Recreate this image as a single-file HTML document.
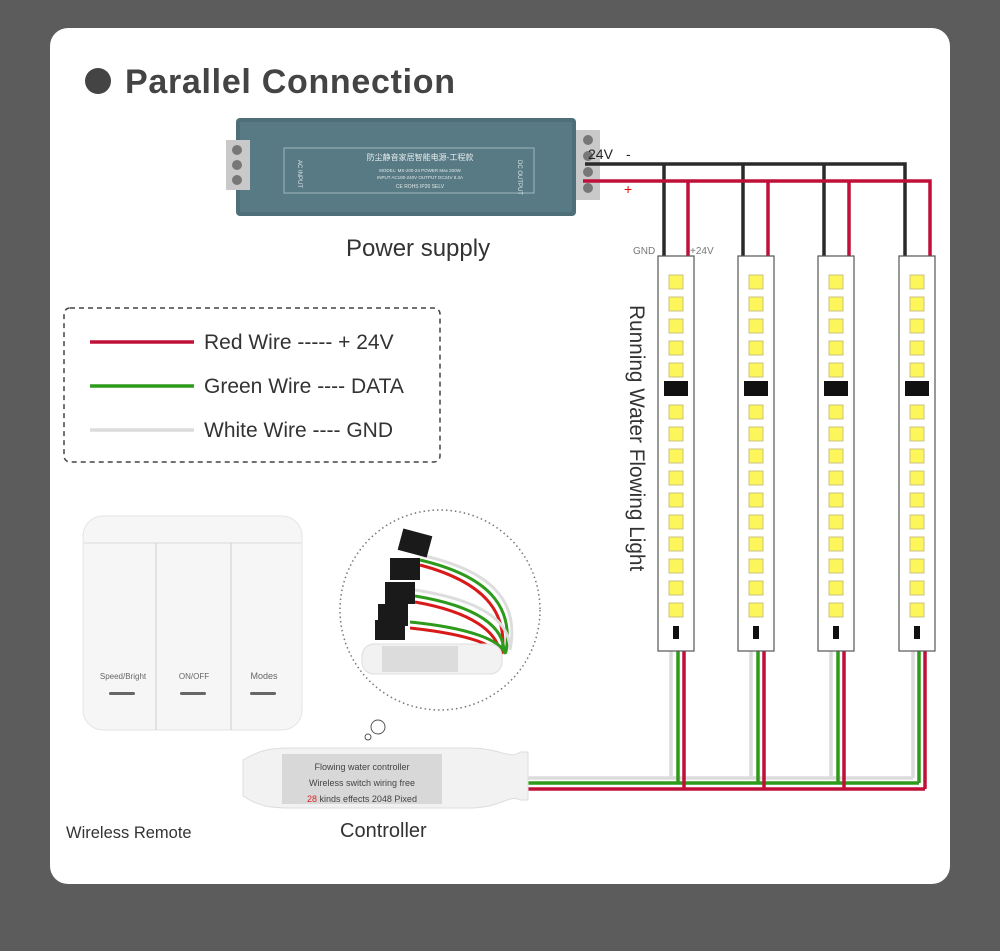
<!DOCTYPE html>
<html><head><meta charset="utf-8"><style>
body{margin:0;background:#5c5c5c;width:1000px;height:946px;overflow:hidden;font-family:"Liberation Sans",sans-serif}
</style></head><body>
<svg width="1000" height="946" xmlns="http://www.w3.org/2000/svg" font-family="Liberation Sans, sans-serif">
<rect x="0" y="0" width="1000" height="946" fill="#5c5c5c"/>
<rect x="50" y="28" width="900" height="856" rx="18" fill="#fff"/>
<circle cx="98" cy="81" r="13" fill="#444"/>
<text x="125" y="93" font-size="34" font-weight="bold" fill="#444" letter-spacing="0.7">Parallel Connection</text>
<!-- power supply -->
<g>
<rect x="236" y="118" width="340" height="98" rx="4" fill="#4f6f78"/>
<rect x="240" y="122" width="332" height="90" fill="#587a84"/>
<rect x="284" y="148" width="250" height="45" fill="none" stroke="#9fb5bb" stroke-width="1"/>
<text x="420" y="160" font-size="8" fill="#e8eef0" text-anchor="middle" font-family="Liberation Sans, Noto Sans CJK SC, sans-serif">防尘静音家居智能电源-工程款</text>
<text x="420" y="172" font-size="4.5" fill="#e0e8ea" text-anchor="middle">MODEL: MS-200-24    POWER Max 200W</text>
<text x="420" y="179" font-size="4.5" fill="#e0e8ea" text-anchor="middle">INPUT AC100-240V OUTPUT DC24V 8.3A</text>
<text x="420" y="188" font-size="5" fill="#e0e8ea" text-anchor="middle">CE ROHS  IP20  SELV</text>
<text transform="translate(298,160) rotate(90)" font-size="6" fill="#e0e8ea">AC INPUT</text>
<text transform="translate(518,160) rotate(90)" font-size="6" fill="#e0e8ea">DC OUTPUT</text>
<rect x="576" y="130" width="24" height="70" fill="#c9c9c9"/>
<circle cx="588" cy="140" r="5" fill="#777"/><circle cx="588" cy="156" r="5" fill="#777"/><circle cx="588" cy="172" r="5" fill="#777"/><circle cx="588" cy="188" r="5" fill="#777"/>
<rect x="226" y="140" width="24" height="50" fill="#c9c9c9"/>
<circle cx="237" cy="150" r="5" fill="#777"/><circle cx="237" cy="165" r="5" fill="#777"/><circle cx="237" cy="180" r="5" fill="#777"/>
</g>
<text x="346" y="256" font-size="24" fill="#333">Power supply</text>
<!-- wires top -->
<text x="588" y="159" font-size="14" fill="#222">24V</text>
<text x="626" y="159" font-size="14" fill="#222">-</text>
<text x="624" y="194" font-size="14" fill="#e00">+</text>
<path d="M585 164 H905 V258 M664 164 V258 M743 164 V258 M824 164 V258" stroke="#2a2a2a" stroke-width="3.5" fill="none"/>
<path d="M583 181 H930 V258 M688 181 V258 M768 181 V258 M849 181 V258" stroke="#c0103a" stroke-width="3.5" fill="none"/>
<text x="633" y="254" font-size="10" fill="#777">GND</text>
<text x="690" y="254" font-size="10" fill="#777">+24V</text>
<!-- bottom wires -->
<path d="M525 778 H913 M671 650 V778 M751 650 V778 M831 650 V778 M913 650 V778" stroke="#dcdcdc" stroke-width="3.5" fill="none"/>
<path d="M525 783 H919 M678 650 V783 M758 650 V783 M838 650 V783 M919 650 V783" stroke="#2e9a1c" stroke-width="3.5" fill="none"/>
<path d="M525 789 H925 M684 650 V789 M764 650 V789 M844 650 V789 M925 650 V789" stroke="#c0103a" stroke-width="3.5" fill="none"/>
<!-- strips -->
<g id="s">
<rect x="658" y="256" width="36" height="395" fill="#fff" stroke="#555" stroke-width="1.2"/>
<g fill="#fdf65a" stroke="#cbc280" stroke-width="1">
<rect x="669" y="275" width="14" height="14"/><rect x="669" y="297" width="14" height="14"/><rect x="669" y="319" width="14" height="14"/><rect x="669" y="341" width="14" height="14"/><rect x="669" y="363" width="14" height="14"/>
<rect x="669" y="405" width="14" height="14"/><rect x="669" y="427" width="14" height="14"/><rect x="669" y="449" width="14" height="14"/><rect x="669" y="471" width="14" height="14"/><rect x="669" y="493" width="14" height="14"/><rect x="669" y="515" width="14" height="14"/><rect x="669" y="537" width="14" height="14"/><rect x="669" y="559" width="14" height="14"/><rect x="669" y="581" width="14" height="14"/><rect x="669" y="603" width="14" height="14"/>
</g>
<rect x="664" y="381" width="24" height="15" fill="#111"/>
<rect x="673" y="626" width="6" height="13" fill="#111"/>
</g>
<use href="#s" x="80"/><use href="#s" x="160"/><use href="#s" x="241"/>
<text transform="translate(630,305) rotate(90)" font-size="20.8" fill="#333">Running Water Flowing Light</text>
<!-- legend -->
<rect x="64" y="308" width="376" height="154" rx="6" fill="none" stroke="#444" stroke-width="1.5" stroke-dasharray="5,4"/>
<line x1="90" y1="342" x2="194" y2="342" stroke="#c0103a" stroke-width="3.5"/>
<line x1="90" y1="386" x2="194" y2="386" stroke="#2e9a1c" stroke-width="3.5"/>
<line x1="90" y1="430" x2="194" y2="430" stroke="#dcdcdc" stroke-width="3.5"/>
<text x="204" y="349" font-size="21" fill="#333">Red Wire ----- + 24V</text>
<text x="204" y="393" font-size="21" fill="#333">Green Wire ---- DATA</text>
<text x="204" y="437" font-size="21" fill="#333">White Wire ---- GND</text>
<!-- remote -->
<rect x="83" y="516" width="219" height="214" rx="20" fill="#f6f6f6" stroke="#e4e4e4"/>
<line x1="84" y1="543" x2="301" y2="543" stroke="#dadada"/>
<line x1="156" y1="543" x2="156" y2="730" stroke="#cfcfcf"/>
<line x1="231" y1="543" x2="231" y2="730" stroke="#cfcfcf"/>
<text x="123" y="679" font-size="8" fill="#666" text-anchor="middle">Speed/Bright</text>
<text x="194" y="679" font-size="8" fill="#666" text-anchor="middle">ON/OFF</text>
<text x="264" y="679" font-size="9" fill="#666" text-anchor="middle">Modes</text>
<rect x="109" y="692" width="26" height="3" rx="1.5" fill="#666"/><rect x="180" y="692" width="26" height="3" rx="1.5" fill="#666"/><rect x="250" y="692" width="26" height="3" rx="1.5" fill="#666"/>
<text x="66" y="838" font-size="16.5" fill="#333">Wireless Remote</text>
<!-- circle -->
<circle cx="440" cy="610" r="100" fill="none" stroke="#777" stroke-width="1.5" stroke-dasharray="1.5,3"/>
<g fill="none" stroke-width="3">
<path d="M420 555 C490 570 520 600 510 650" stroke="#ddd"/>
<path d="M420 560 C488 576 514 606 506 652" stroke="#2e9a1c"/>
<path d="M420 565 C484 582 508 612 502 654" stroke="#d81a1a"/>
<path d="M415 590 C480 600 510 620 510 650" stroke="#ddd"/>
<path d="M415 596 C476 606 504 626 504 652" stroke="#2e9a1c"/>
<path d="M415 602 C472 612 498 632 500 654" stroke="#d81a1a"/>
<path d="M410 622 C470 628 500 640 506 654" stroke="#2e9a1c"/>
<path d="M410 628 C466 634 494 644 500 656" stroke="#d81a1a"/>
</g>
<g fill="#1a1a1a"><rect x="400" y="532" width="30" height="22" transform="rotate(15 415 543)"/><rect x="390" y="558" width="30" height="22"/><rect x="385" y="582" width="30" height="22"/><rect x="378" y="604" width="30" height="22"/><rect x="375" y="620" width="30" height="20"/></g>
<rect x="362" y="644" width="140" height="30" rx="12" fill="#f2f2f2" stroke="#ddd"/>
<rect x="382" y="646" width="76" height="26" fill="#dcdcdc"/>
<circle cx="378" cy="727" r="7" fill="none" stroke="#555"/><circle cx="368" cy="737" r="3" fill="none" stroke="#555"/>
<!-- controller -->
<path d="M243 760 C260 750 270 748 290 748 L470 748 C500 748 510 760 520 752 L528 752 L528 800 L520 800 C510 794 500 808 470 808 L290 808 C270 808 258 806 243 796 Z" fill="#f2f2f2" stroke="#ddd"/>
<rect x="282" y="754" width="160" height="50" fill="#d8d8d8"/>
<text x="362" y="770" font-size="9" fill="#444" text-anchor="middle">Flowing water controller</text>
<text x="362" y="786" font-size="9" fill="#444" text-anchor="middle">Wireless switch wiring free</text>
<text x="362" y="802" font-size="9" fill="#444" text-anchor="middle"><tspan fill="#d22">28</tspan> kinds effects 2048 Pixed</text>
<text x="340" y="837" font-size="20" fill="#333">Controller</text>
</svg>
</body></html>
